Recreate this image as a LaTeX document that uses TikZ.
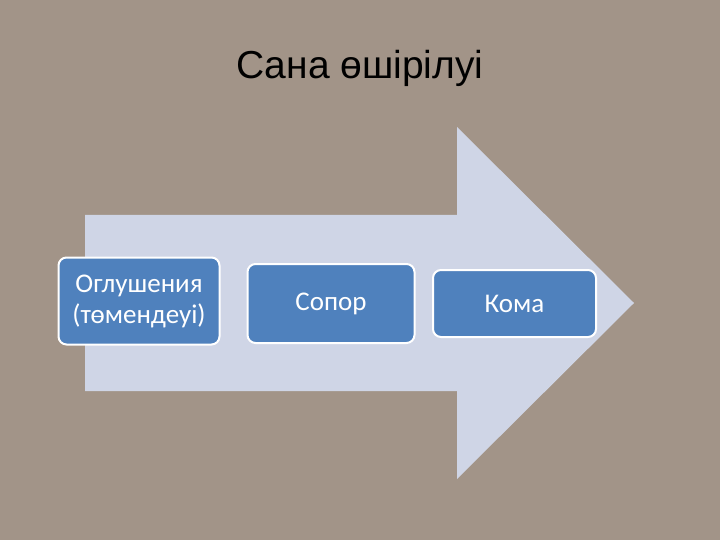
\documentclass[tikz,border=0pt]{standalone}
\usepackage{fontspec}
\setmainfont{Liberation Sans}
\newfontfamily\boxfont{Carlito}
\usetikzlibrary{shapes, calc}

\definecolor{granite}{HTML}{A29488}
\definecolor{arrowfill}{HTML}{CFD5E6}
\definecolor{stepblue}{HTML}{4F81BD}

\begin{document}
\begin{tikzpicture}[x=1pt, y=-1pt]
 \tikzstyle{stage}=[rectangle, rounded corners=8pt, draw=white, line width=2pt, fill=stepblue, text=white, font=\boxfont\fontsize{27}{31}\selectfont, align=center, inner sep=0pt]
 \tikzstyle{heading}=[font=\fontsize{39}{44}\selectfont, text=black]

 % Background
 \fill [granite] (0,0) rectangle (720,540);
 \useasboundingbox (0,0) rectangle (720,540);

 \node (ntitle) at (360,68) [heading] {Сана өшірілуі};

 % Big arrow
 \fill [arrowfill] (85,215) -- (457,215) -- (457,127) -- (634,303)
   -- (457,479) -- (457,391) -- (85,391) -- cycle;

 % Stages
 \node (nstunning) at (139,301) [stage, minimum width=161pt, minimum height=87pt] {Оглушения\\(төмендеуі)};
 \node (nsopor) at (331,303.5) [stage, minimum width=167pt, minimum height=79pt] {Сопор};
 \node (ncoma) at (514.5,303.5) [stage, minimum width=163pt, minimum height=67pt] {Кома};

\end{tikzpicture}
\end{document}
